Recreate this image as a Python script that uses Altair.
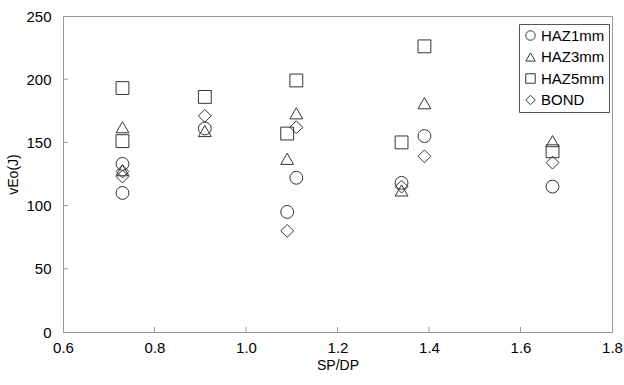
import altair as alt
import pandas as pd

series = ["HAZ1mm", "HAZ3mm", "HAZ5mm", "BOND"]
shapes = ["circle", "triangle-up", "square", "diamond"]

sp_dp = [0.73, 0.73, 0.91, 1.09, 1.11, 1.34, 1.39, 1.67]
haz1 = [133, 110, 161, 95, 122, 118, 155, 115]
haz3 = [162, 128, 159, 137, 173, 112, 181, 151]
haz5 = [193, 151, 186, 157, 199, 150, 226, 143]
bond = [127, 123, 171, 80, 162, 115, 139, 134]

x_ticks = [0.6, 0.8, 1.0, 1.2, 1.4, 1.6, 1.8]
y_ticks = [0, 50, 100, 150, 200, 250]

rows = []
for name, vals in zip(series, [haz1, haz3, haz5, bond]):
    for x, y in zip(sp_dp, vals):
        rows.append({"series": name, "x": x, "y": y})
df = pd.DataFrame(rows)

FONT = "Liberation Sans"
INK = "#333333"

xscale = alt.Scale(domain=[0.6, 1.8], nice=False, zero=False)
yscale = alt.Scale(domain=[0, 250], nice=False)

points = alt.Chart(df).mark_point(filled=False, size=165, strokeWidth=1, color=INK, opacity=1).encode(
    x=alt.X("x:Q", scale=xscale, title="SP/DP",
            axis=alt.Axis(values=x_ticks, format=".1f", ticks=False, grid=False,
                          labelFlush=False, labelOverlap=False, labelPadding=8,
                          labelFontSize=15, titleFontSize=14, titlePadding=3,
                          titleFontWeight="normal")),
    y=alt.Y("y:Q", scale=yscale, title="vEo(J)",
            axis=alt.Axis(values=y_ticks, ticks=False, grid=False, labelPadding=12,
                          labelFontSize=15, titleFontSize=14, titlePadding=5,
                          titleFontWeight="normal")),
    shape=alt.Shape("series:N", scale=alt.Scale(domain=series, range=shapes),
                    legend=alt.Legend(title=None, orient="none", legendX=456, legendY=8,
                                      labelFontSize=15, labelFont=FONT, symbolSize=90,
                                      symbolStrokeColor=INK, symbolStrokeWidth=1,
                                      symbolFillColor="white", rowPadding=5.5,
                                      padding=4, strokeColor="#555", fillColor="white",
                                      labelOffset=3, symbolOffset=0)),
)

xt = alt.Chart(pd.DataFrame({"v": x_ticks[1:-1]})).mark_rule(color="#999", strokeWidth=1).encode(
    x=alt.X("v:Q", scale=xscale), y=alt.value(316), y2=alt.value(311))
yt = alt.Chart(pd.DataFrame({"v": y_ticks[1:-1]})).mark_rule(color="#999", strokeWidth=1).encode(
    y=alt.Y("v:Q", scale=yscale), x=alt.value(0), x2=alt.value(5))

chart = alt.layer(points, xt, yt).properties(
    width=549, height=316,
    autosize=alt.AutoSizeParams(type="none"),
    padding={"left": 63, "top": 16, "right": 12, "bottom": 53},
    background="white",
).configure_view(stroke="#999", strokeWidth=1).configure_axis(
    domainColor="#999", labelColor="black", titleColor="black",
    labelFont=FONT, titleFont=FONT,
)

chart.save("out.html", embed_options={"renderer": "svg", "actions": False})
